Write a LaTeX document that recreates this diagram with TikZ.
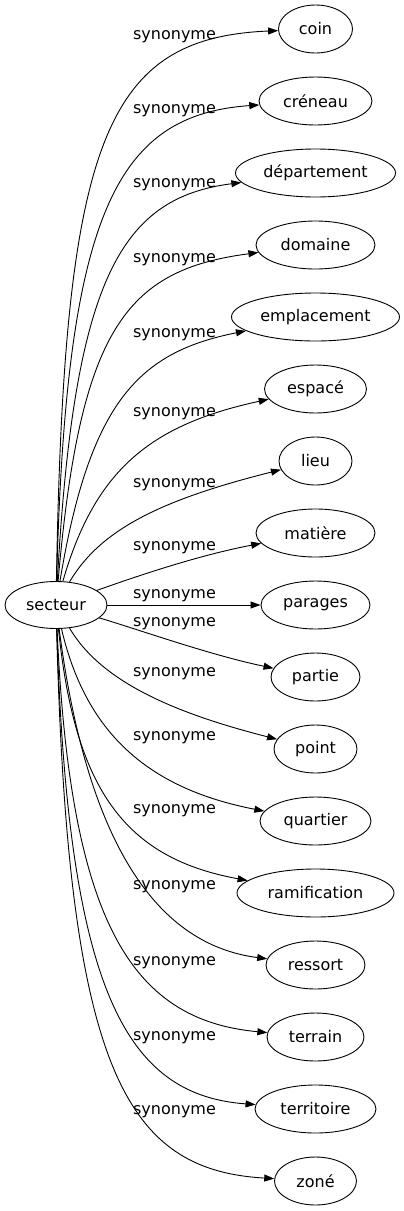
\documentclass[tikz,border=0pt]{standalone}
\usepackage{fontspec}
\setmainfont{DejaVu Sans}
\usetikzlibrary{shapes.geometric,arrows.meta}
\tikzset{
  wbox/.style={draw, ellipse, line width=0.9pt, inner sep=0pt, minimum height=48pt, font=\fontsize{16}{19}\selectfont},
  lbl/.style={anchor=base, inner sep=0pt, font=\fontsize{16}{19}\selectfont},
  arr/.style={draw, line width=0.9pt, -{Triangle[length=10pt,width=7pt]}}
}
\begin{document}
\begin{tikzpicture}[x=1pt,y=-1pt]
\useasboundingbox (0,0) rectangle (404,1211);
\node[wbox, minimum width=102pt, minimum height=47pt] (secteur) at (56,605) {secteur};
\node[wbox, minimum width=74pt]  (coin)   at (315.5,29)   {coin};
\node[wbox, minimum width=113pt] (creneau) at (315.5,101) {créneau};
\node[wbox, minimum width=160pt] (depart) at (315.5,173)  {département};
\node[wbox, minimum width=119pt] (domaine) at (315.5,245) {domaine};
\node[wbox, minimum width=168pt] (empl)   at (315.5,317)  {emplacement};
\node[wbox, minimum width=102pt] (espace) at (315.5,389)  {espacé};
\node[wbox, minimum width=73pt]  (lieu)   at (315.5,461)  {lieu};
\node[wbox, minimum width=119pt] (matiere) at (315.5,533) {matière};
\node[wbox, minimum width=109pt] (parages) at (315.5,605) {parages};
\node[wbox, minimum width=89pt]  (partie) at (315.5,677)  {partie};
\node[wbox, minimum width=83pt]  (point)  at (315.5,749)  {point};
\node[wbox, minimum width=111pt] (quartier) at (315.5,821) {quartier};
\node[wbox, minimum width=157pt] (ramif)  at (315.5,893)  {ramification};
\node[wbox, minimum width=99pt]  (ressort) at (315.5,965) {ressort};
\node[wbox, minimum width=97pt]  (terrain) at (315.5,1037) {terrain};
\node[wbox, minimum width=121pt] (territ) at (315.5,1109) {territoire};
\node[wbox, minimum width=82pt]  (zone)   at (315.5,1181) {zoné};

\node[lbl] (l1)  at (174.5,39)   {synonyme};
\node[lbl] (l2)  at (174.5,113)  {synonyme};
\node[lbl] (l3)  at (174.5,187)  {synonyme};
\node[lbl] (l4)  at (174.5,262)  {synonyme};
\node[lbl] (l5)  at (174.5,337)  {synonyme};
\node[lbl] (l6)  at (174.5,416)  {synonyme};
\node[lbl] (l7)  at (174.5,487)  {synonyme};
\node[lbl] (l8)  at (174.5,550)  {synonyme};
\node[lbl] (l9)  at (174.5,598)  {synonyme};
\node[lbl] (l10) at (174.5,626)  {synonyme};
\node[lbl] (l11) at (174.5,676)  {synonyme};
\node[lbl] (l12) at (174.5,740)  {synonyme};
\node[lbl] (l13) at (174.5,813)  {synonyme};
\node[lbl] (l14) at (174.5,889)  {synonyme};
\node[lbl] (l15) at (174.5,965)  {synonyme};
\node[lbl] (l16) at (174.5,1040) {synonyme};
\node[lbl] (l17) at (174.5,1114) {synonyme};

\draw[arr] (secteur) .. controls (64,140) and (105,38) .. (coin);
\draw[arr] (secteur) .. controls (66,215) and (115,115) .. (creneau);
\draw[arr] (secteur) .. controls (74,280) and (120,198) .. (depart);
\draw[arr] (secteur) .. controls (80,330) and (125,270) .. (domaine);
\draw[arr] (secteur) .. controls (90,400) and (140,352) .. (empl);
\draw[arr] (secteur) .. controls (95,470) and (150,425) .. (espace);
\draw[arr] (secteur) .. controls (100,530) and (160,500) .. (lieu);
\draw[arr] (secteur) .. controls (140,575) and (200,555) .. (matiere);
\draw[arr] (secteur) -- (parages);
\draw[arr] (secteur) .. controls (140,630) and (210,655) .. (partie);
\draw[arr] (secteur) .. controls (100,680) and (170,712) .. (point);
\draw[arr] (secteur) .. controls (85,730) and (145,788) .. (quartier);
\draw[arr] (secteur) .. controls (75,790) and (125,858) .. (ramif);
\draw[arr] (secteur) .. controls (88,850) and (160,945) .. (ressort);
\draw[arr] (secteur) .. controls (70,920) and (130,1020) .. (terrain);
\draw[arr] (secteur) .. controls (68,990) and (125,1095) .. (territ);
\draw[arr] (secteur) .. controls (68,1070) and (125,1170) .. (zone);
\end{tikzpicture}
\end{document}
